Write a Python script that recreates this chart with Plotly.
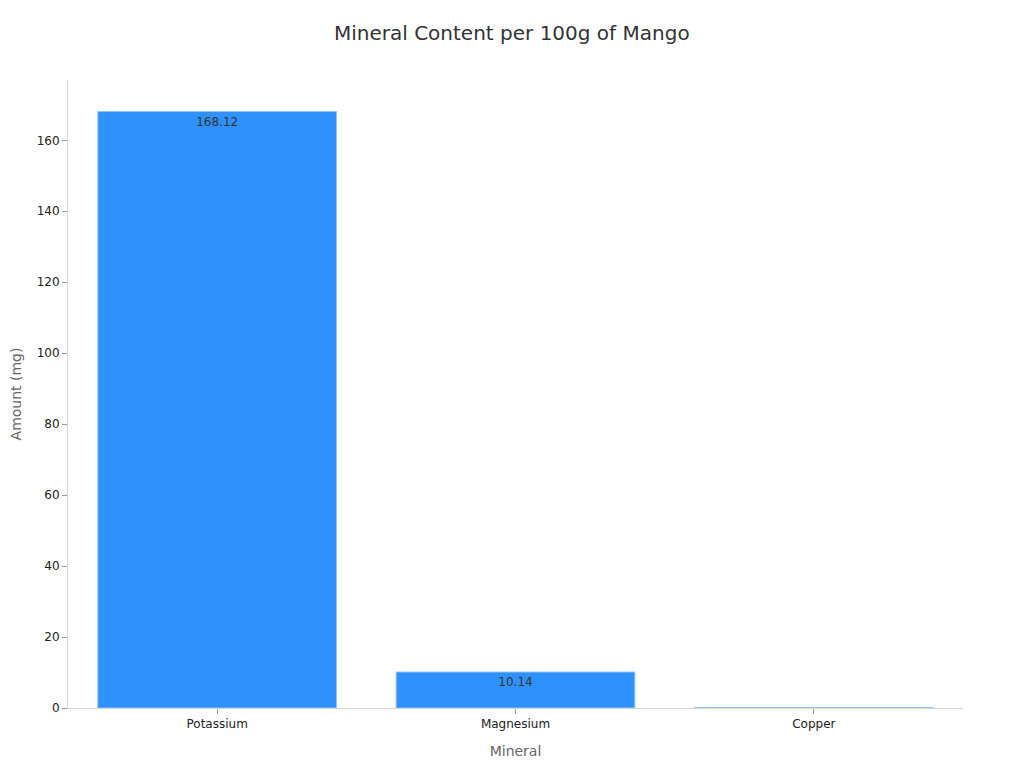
import plotly.graph_objects as go

# Данные
minerals = ["Potassium", "Magnesium", "Copper"]
amounts = [168.12, 10.14, 0.11]

fig = go.Figure()

fig.add_trace(go.Bar(
    x=minerals,
    y=amounts,
    text=[f"{v:.2f}" for v in amounts],
    textposition="inside",
    insidetextanchor="end",
    textfont=dict(color="#333333", size=12),
    marker=dict(color="#2E91FC", line=dict(color="#8EC3FA", width=1)),
    showlegend=False,
))

fig.update_layout(
    title=dict(text="Mineral Content per 100g of Mango", x=0.492, xanchor="center",
               y=0.976, font=dict(size=20, color="#333333")),
    font=dict(family="DejaVu Sans", color="#222222"),
    template="plotly_white",
    width=1024,
    height=768,
    margin=dict(l=60, r=69, t=72, b=68),
    bargap=0.2,
    uniformtext=dict(minsize=9, mode="hide"),
    xaxis=dict(
        title=dict(text="Mineral", font=dict(size=14, color="#666666")),
        showgrid=False, showline=True, linecolor="#d6d6d6",
        ticks="outside", ticklen=5, tickcolor="#999999",
        tickfont=dict(size=12),
    ),
    yaxis=dict(
        title=dict(text="Amount (mg)", font=dict(size=14, color="#666666"), standoff=15),
        automargin=False,
        range=[0, 177], dtick=20,
        showgrid=False, showline=True, linecolor="#d6d6d6", zeroline=False,
        ticks="outside", ticklen=5, tickcolor="#999999",
        tickfont=dict(size=12),
    ),
)

fig.write_html("out.html")
